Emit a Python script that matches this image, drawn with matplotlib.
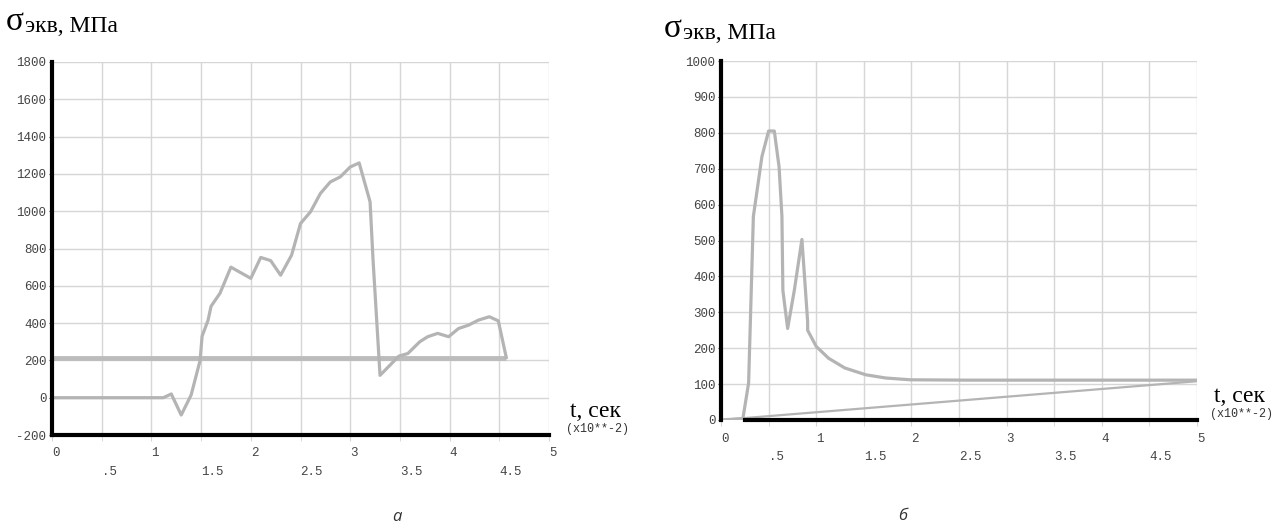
import matplotlib
matplotlib.use("Agg")
import matplotlib.pyplot as plt
from matplotlib.ticker import MultipleLocator

# panel a: equivalent stress vs time (t in 1e-2 s)
t_a = [0, 1.12, 1.2, 1.3, 1.4, 1.49, 1.51, 1.57, 1.6, 1.69, 1.8, 2.0, 2.1, 2.2,
       2.3, 2.41, 2.5, 2.6, 2.7, 2.8, 2.9, 3.0, 3.09, 3.2, 3.23, 3.3, 3.49,
       3.58, 3.7, 3.78, 3.88, 3.99, 4.09, 4.19, 4.29, 4.4, 4.49, 4.57]
s_a = [0, 0, 20, -93, 15, 200, 330, 415, 490, 560, 700, 640, 752, 735,
       657, 764, 934, 996, 1095, 1157, 1184, 1237, 1259, 1050, 737, 120, 223,
       237, 300, 327, 345, 327, 371, 389, 416, 434, 412, 216]
limit_a_t = [0, 4.57]
limit_a_s = [215, 215]

# panel b
t_b = [0, 0.23, 0.29, 0.34, 0.43, 0.5, 0.56, 0.61, 0.64, 0.65, 0.7, 0.77,
       0.85, 0.88, 0.91, 0.91, 1.0, 1.13, 1.3, 1.52, 1.73, 1.99, 2.59, 3.44, 5.0]
s_b = [0, 4, 103, 567, 734, 805, 805, 705, 567, 361, 255, 361,
       503, 389, 274, 250, 205, 172, 145, 126, 117, 112, 111, 111, 111]
ramp_b_t = [0, 5.0]
ramp_b_s = [0, 108]

x_major = [0, 1, 2, 3, 4, 5]
x_minor = [0.5, 1.5, 2.5, 3.5, 4.5]
x_major_lab = ["0", "1", "2", "3", "4", "5"]
x_minor_lab = [".5", "1.5", "2.5", "3.5", "4.5"]

plt.rcParams["axes.unicode_minus"] = False

W, H = 1281, 526
fig = plt.figure(figsize=(W / 100, H / 100), dpi=100)

mono = "Liberation Mono"
serif = "Liberation Serif"
grid_c = "#d6d6d6"
line_c = "#b4b4b4"
tick_c = "#444444"


def setup(ax, ymin, ymax, ystep):
    ax.set_xlim(0, 5)
    ax.set_ylim(ymin, ymax)
    ax.yaxis.set_major_locator(MultipleLocator(ystep))
    ax.set_xticks(x_major)
    ax.set_xticklabels(x_major_lab)
    ax.set_xticks(x_minor, minor=True)
    ax.set_xticklabels(x_minor_lab, minor=True)
    ax.grid(True, which="both", color=grid_c, lw=1)
    ax.set_axisbelow(True)
    for s in ["top", "right"]:
        ax.spines[s].set_visible(False)
    for s in ["left", "bottom"]:
        ax.spines[s].set_linewidth(3)
        ax.spines[s].set_color("black")
    ax.tick_params(axis="x", which="major", length=4, color=grid_c, pad=5,
                   labelsize=9, labelcolor=tick_c)
    ax.tick_params(axis="x", which="minor", length=4, color=grid_c, pad=18,
                   labelsize=9, labelcolor=tick_c)
    ax.tick_params(axis="y", length=2, color=tick_c, pad=2,
                   labelsize=9, labelcolor=tick_c)
    for lab in ax.get_xticklabels() + ax.get_xticklabels(minor=True):
        lab.set_ha("left")
        lab.set_fontfamily(mono)
    for lab in ax.get_yticklabels():
        lab.set_fontfamily(mono)


# panel a
ax1 = fig.add_axes([52 / W, 1 - 435 / H, (549 - 52) / W, (435 - 62) / H])
setup(ax1, -200, 1800, 200)
ax1.plot(limit_a_t, limit_a_s, color="#bcbcbc", lw=3.5, solid_capstyle="butt")
ax1.plot(t_a, s_a, color=line_c, lw=2.3)

# panel b
ax2 = fig.add_axes([721 / W, 1 - 420 / H, (1197 - 721) / W, (420 - 61) / H])
setup(ax2, 0, 1000, 100)
ax2.spines["bottom"].set_bounds(0.25, 5)
ax2.plot(ramp_b_t, ramp_b_s, color=line_c, lw=1.6)
ax2.plot(t_b, s_b, color=line_c, lw=2.3)

# y-axis titles
for x0, y0 in [(6, 30), (664, 37)]:
    sig = fig.text(x0 / W, 1 - y0 / H, "σ", fontsize=24, fontfamily=serif,
                   va="baseline")
    ax1.annotate("экв, МПа", xy=(1, 0), xycoords=sig, xytext=(1, 0),
                 textcoords="offset points", fontsize=17, fontfamily=serif,
                 va="bottom", annotation_clip=False)

# x-axis titles
for x0, y0, y1 in [(570, 417, 429), (1214, 402, 414)]:
    fig.text(x0 / W, 1 - y0 / H, "t, сек", fontsize=17, fontfamily=serif,
             va="baseline")
    fig.text((x0 + 27) / W, 1 - y1 / H, "(x10**-2)", fontsize=8.5,
             fontfamily=mono, ha="center", va="center", color="#333333")

fig.text(397 / W, 1 - 517 / H, "а", fontsize=12, style="italic",
         fontfamily="Open Sans", ha="center", va="center", color="#333333")
fig.text(903 / W, 1 - 516 / H, "б", fontsize=12, style="italic",
         fontfamily="Open Sans", ha="center", va="center", color="#333333")

fig.savefig("out.png", dpi=100)
